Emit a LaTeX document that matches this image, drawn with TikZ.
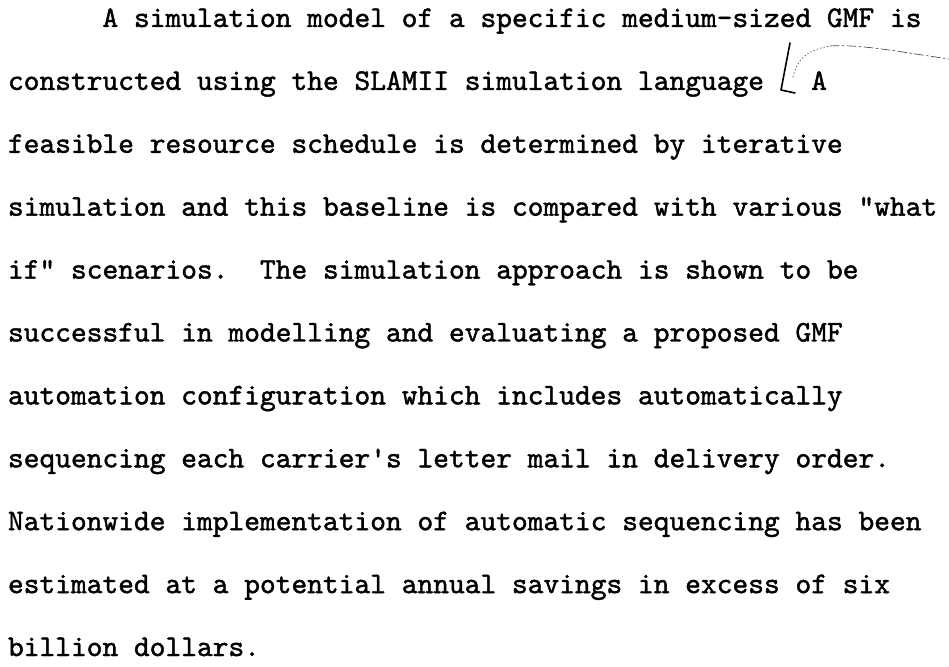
\documentclass[tikz,border=0pt]{standalone}
\usepackage{fontspec}
\newfontfamily\typewriter[FakeBold=1.4]{lmmono10-regular.otf}
\begin{document}
\begin{tikzpicture}[x=1pt,y=1pt,
  typeline/.style={anchor=base west, inner sep=0pt, outer sep=0pt,
    font=\typewriter\fontsize{30}{34}\selectfont\frenchspacing},
  pencil/.style={line width=1.6pt, line cap=round, line join=round},
  faint/.style={line width=0.7pt, black!70, line cap=round}]
\useasboundingbox (0,0) rectangle (949,666);
% typed abstract, one node per typed line (pitch 15.75, line feed 62.9)
\node[typeline] (l1)  at (102.5,639.0) {A simulation model of a specific medium-sized GMF is};
\node[typeline] (l2)  at (8,576.1) {constructed using the SLAMII simulation language~~~A};
\node[typeline] (l3)  at (8,513.2) {feasible resource schedule is determined by iterative};
\node[typeline] (l4)  at (8,450.3) {simulation and this baseline is compared with various "what};
\node[typeline] (l5)  at (8,387.4) {if" scenarios.~ The simulation approach is shown to be};
\node[typeline] (l6)  at (8,324.5) {successful in modelling and evaluating a proposed GMF};
\node[typeline] (l7)  at (8,261.6) {automation configuration which includes automatically};
\node[typeline] (l8)  at (8,198.7) {sequencing each carrier's letter mail in delivery order.};
\node[typeline] (l9)  at (8,135.8) {Nationwide implementation of automatic sequencing has been};
\node[typeline] (l10) at (8,72.9)  {estimated at a potential annual savings in excess of six};
\node[typeline] (l11) at (8,10.0)  {billion dollars.};
% hand-written correction mark after "language"
\draw[pencil] (790,623) -- (781,576) -- (795,573);
\draw[faint, dash pattern=on 1pt off 2.5pt]
  (793,589) .. controls (797,606) and (806,616) .. (830,620);
\draw[faint, dash pattern=on 9pt off 3pt on 2pt off 3pt]
  (830,620) .. controls (860,622) and (900,614) .. (949,607);
\end{tikzpicture}
\end{document}
